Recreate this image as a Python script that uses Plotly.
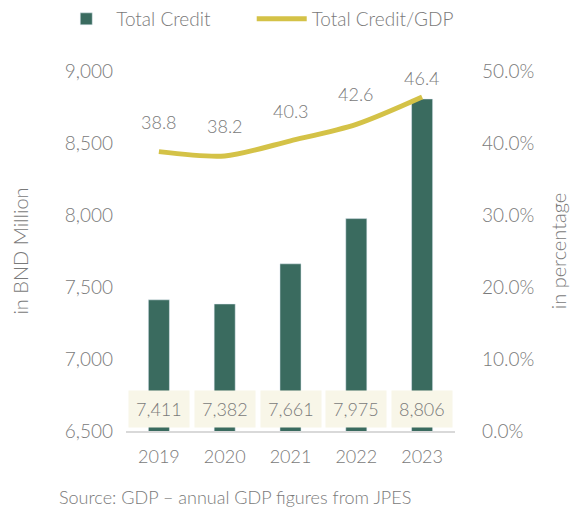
import plotly.graph_objects as go

years = ["2019", "2020", "2021", "2022", "2023"]
total_credit = [7411, 7382, 7661, 7975, 8806]          # BND Million
credit_to_gdp = [38.8, 38.2, 40.3, 42.6, 46.4]           # percent

BAR_COLOR = "#3a6b5f"
LINE_COLOR = "#d4c247"
TEXT_COLOR = "#7a7a7a"
FONT = "Lato"
W = 300

fig = go.Figure()
fig.add_trace(go.Bar(
    x=years, y=total_credit, name="Total Credit",
    marker_color=BAR_COLOR, width=0.32, yaxis="y", legend="legend",
))
fig.add_trace(go.Scatter(
    x=years, y=[v / 100 for v in credit_to_gdp], name="Total Credit/GDP",
    mode="lines", line=dict(color=LINE_COLOR, width=5, shape="spline", smoothing=0.8),
    yaxis="y2", legend="legend2",
))

annotations = []
# value boxes near the base of each bar (x given as category index)
for i, v in enumerate(total_credit):
    annotations.append(dict(
        x=i, y=6500, xref="x", yref="y", yshift=22,
        text=f"{v:,}", showarrow=False, bgcolor="#f8f6e8",
        borderpad=7, font=dict(size=18, color=TEXT_COLOR, family=FONT, weight=W),
    ))
# ratio labels above the line
for i, v in enumerate(credit_to_gdp):
    annotations.append(dict(
        x=i, y=v / 100, xref="x", yref="y2",
        yshift=19 if i == len(years) - 1 else 30,
        text=f"{v:.1f}", showarrow=False,
        font=dict(size=18, color=TEXT_COLOR, family=FONT, weight=W),
    ))
# source note below the chart
annotations.append(dict(
    x=-0.21, y=-0.183, xref="paper", yref="paper",
    xanchor="left", yanchor="middle", showarrow=False,
    text="Source: GDP – annual GDP figures from JPES",
    font=dict(size=18, color=TEXT_COLOR, family=FONT, weight=W),
))

legend_common = dict(
    orientation="h", xref="container", yref="container",
    xanchor="left", yanchor="top", y=1.0, itemwidth=50,
    font=dict(size=19, color=TEXT_COLOR, family=FONT, weight=W),
)

fig.update_layout(
    width=580, height=508,
    margin=dict(l=126, r=125, t=71, b=77, autoexpand=False),
    paper_bgcolor="white", plot_bgcolor="white",
    font=dict(family=FONT, color=TEXT_COLOR, size=18, weight=W),
    showlegend=True,
    legend=dict(legend_common, x=0.097),
    legend2=dict(legend_common, x=0.434),
    xaxis=dict(
        type="category", range=[-0.5, 4.5], showgrid=False, showline=True,
        linecolor="#d9d9d9", linewidth=2, ticks="", tickfont=dict(size=18),
        ticklabelstandoff=8,
    ),
    yaxis=dict(
        range=[6500, 9000], dtick=500, tickformat=",", showgrid=False,
        zeroline=False, showline=False, ticks="", ticklabelstandoff=12,
        title=dict(text="in BND Million", font=dict(size=20), standoff=30),
        tickfont=dict(size=19),
    ),
    yaxis2=dict(
        range=[0, 0.5], dtick=0.1, tickformat=".1%", overlaying="y", side="right",
        showgrid=False, zeroline=False, showline=False, ticks="",
        ticklabelstandoff=26,
        title=dict(text="in percentage", font=dict(size=20), standoff=18),
        tickfont=dict(size=19),
    ),
    annotations=annotations,
)

fig.write_html("out.html")
